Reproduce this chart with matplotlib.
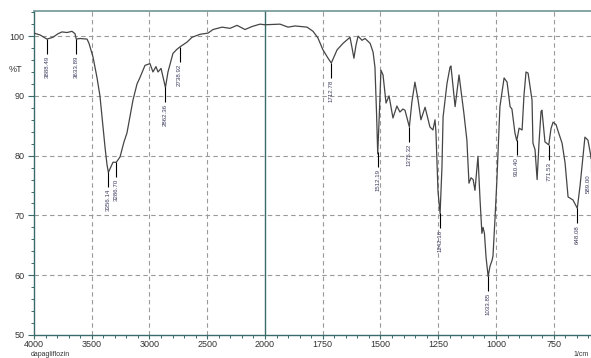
#!/usr/bin/env python3
"""IR spectrum of dapagliflozin, Shimadzu-style plot with a 2x scale below 2000 1/cm."""

import matplotlib
matplotlib.use("Agg")
import matplotlib.pyplot as plt
import numpy as np
from matplotlib.ticker import FixedLocator

# Spectrum (wavenumber in 1/cm, transmittance in %T).
wavenumber = [
    4000, 3948, 3888, 3836, 3792, 3758, 3714, 3671, 3645, 3634, 3602, 3541,
    3524, 3489, 3455, 3429, 3411, 3385, 3368, 3356, 3342, 3316, 3287, 3255,
    3221, 3195, 3169, 3143, 3108, 3082, 3039, 2996, 2970, 2944, 2926, 2900,
    2883, 2862, 2840, 2797, 2762, 2736, 2675, 2632, 2563, 2494, 2450, 2372,
    2303, 2242, 2173, 2113, 2043, 2000,
    1935, 1900, 1870, 1818, 1792, 1771, 1749, 1727, 1713, 1688, 1662, 1632,
    1623, 1615, 1606, 1597, 1580, 1567, 1545, 1532, 1524, 1517, 1512, 1506,
    1498, 1489, 1476, 1463, 1446, 1429, 1416, 1403, 1394, 1375, 1364, 1351,
    1338, 1325, 1307, 1286, 1273, 1264, 1260, 1251, 1242, 1234, 1229, 1212,
    1199, 1195, 1177, 1160, 1143, 1139, 1126, 1117, 1108, 1099, 1091, 1078,
    1069, 1061, 1056, 1050, 1043, 1034, 1026, 1017, 1013, 1004, 996, 983,
    965, 952, 939, 931, 918, 910, 900, 887, 879, 870, 861, 844, 840, 831,
    822, 814, 805, 801, 788, 771.5, 762, 753, 740, 732, 714, 701, 688, 667,
    648, 636, 628, 615, 602, 592, 588, 580,
]
transmittance = [
    100.5, 100.2, 99.5, 99.8, 100.4, 100.7, 100.6, 100.8, 100.4, 99.5, 99.6, 99.5,
    98.8, 96.5, 93.1, 90.0, 86.5, 81.4, 78.5, 77.2, 77.8, 78.9, 78.9, 79.8,
    82.3, 83.8, 86.5, 89.3, 92.0, 93.1, 95.1, 95.4, 94.0, 94.9, 94.0, 94.6,
    93.2, 91.4, 94.0, 97.1, 97.8, 98.2, 99.0, 99.8, 100.3, 100.5, 101.1, 101.5,
    101.3, 101.8, 101.1, 101.6, 102.0, 101.9,
    102.0, 101.5, 101.7, 101.5, 100.8, 99.7, 97.7, 96.3, 95.5, 97.7, 98.8, 99.8,
    98.0, 96.3, 98.5, 100.0, 99.3, 99.6, 98.8, 97.3, 94.8, 87.0, 80.3, 86.0,
    94.3, 93.5, 88.8, 90.0, 86.3, 88.3, 87.3, 87.8, 87.6, 84.8, 89.0, 92.3,
    89.5, 86.0, 88.1, 84.8, 84.3, 86.0, 84.0, 74.0, 70.3, 78.0, 86.5, 92.1,
    94.8, 95.0, 88.2, 93.5, 88.2, 87.1, 82.6, 75.4, 76.3, 76.0, 74.2, 79.9,
    72.6, 67.0, 68.0, 67.0, 63.0, 59.8, 61.5, 62.5, 63.2, 69.7, 76.0, 88.2,
    93.0, 92.3, 88.2, 87.8, 83.8, 82.5, 84.6, 84.3, 90.0, 94.0, 93.8, 89.3, 82.1, 81.0,
    76.0, 82.0, 87.4, 87.6, 82.3, 81.8, 84.5, 85.6, 85.2, 84.2, 82.1, 78.8, 73.1, 72.6,
    71.2, 75.0, 78.1, 83.1, 82.6, 80.5, 79.5, 80.0,
]

# Peak picks and their printed labels.
peak_wn = [3888.49, 3633.89, 3356.14, 3286.70, 2862.36, 2738.92, 1712.78,
           1512.19, 1375.32, 1242.16, 1033.85, 910.40, 771.53, 648.08, 589.00]
peak_text = ["3888.49", "3633.89", "3356.14", "3286.70", "2862.36", "2738.92",
             "1712.78", "1512.19", "1375.32", "1242.16", "1033.85", "910.40",
             "771.53", "648.08", "589.00"]

x_major = [4000, 3500, 3000, 2500, 2000, 1750, 1500, 1250, 1000, 750]
x_grid = [3500, 3000, 2500, 1750, 1500, 1250, 1000, 750]
y_major = [50, 60, 70, 80, 90, 100]

TEAL = "#3a6b6b"
GRID = "#9a9a9a"
TEXT = "#333333"
LABEL = "#3b3b5e"
FONT = ["Liberation Sans", "DejaVu Sans"]

plt.rcParams["font.family"] = FONT


def forward(x):
    x = np.asarray(x, dtype=float)
    return np.where(x >= 2000, x, 2 * x - 2000)


def inverse(y):
    y = np.asarray(y, dtype=float)
    return np.where(y >= 2000, y, (y + 2000) / 2)


fig = plt.figure(figsize=(5.91, 3.58), dpi=100)
ax = fig.add_axes([34 / 591, 23 / 358, 1 - 34 / 591, 324 / 358])
ax.set_xscale("function", functions=(forward, inverse))
ax.set_xlim(4000, 588.7)
ax.set_ylim(50, 104.2)

# grid
for gx in x_grid:
    ax.axvline(gx, color=GRID, lw=0.8, ls=(0, (4, 3)), zorder=1)
for gy in y_major[1:]:
    ax.axhline(gy, color=GRID, lw=0.8, ls=(0, (4, 3)), zorder=1)
ax.axvline(2000, color=TEAL, lw=1.0, zorder=2)

ax.plot(wavenumber, transmittance, color="#454545", lw=0.9, zorder=3)

# peak markers and labels
wn_arr = np.array(wavenumber)[::-1]
t_arr = np.array(transmittance)[::-1]
last = len(peak_wn) - 1
for i, (wn, txt) in enumerate(zip(peak_wn, peak_text)):
    t = np.interp(wn, wn_arr, t_arr)
    ax.vlines(wn, t - 2.5, t, color="black", lw=0.8, zorder=4)
    # the last pick sits on the right edge; keep its label inside the frame
    ax.text(wn, t - 2.8, txt, rotation=90, ha="right" if i == last else "center",
            va="top", fontsize=4.4, color=LABEL, zorder=5)

ax.xaxis.set_major_locator(FixedLocator(x_major))
minors = list(range(3900, 2000, -100)) + list(range(1950, 580, -50))
ax.xaxis.set_minor_locator(FixedLocator([m for m in minors if m not in x_major]))
ax.set_xticklabels([str(v) for v in x_major])
ax.yaxis.set_major_locator(FixedLocator(y_major))
ax.yaxis.set_minor_locator(FixedLocator(list(range(52, 105, 2))))

ax.tick_params(axis="y", which="major", direction="out", length=4.5,
               width=0.8, color=TEAL, labelsize=6.5, labelcolor=TEXT, pad=2.5)
ax.tick_params(axis="x", which="major", direction="out", length=2.8,
               width=0.8, color=TEAL, labelsize=6.5, labelcolor=TEXT, pad=1.0)
ax.tick_params(axis="both", which="minor", direction="out", length=2.2,
               width=0.7, color=TEAL)

for side in ["left", "bottom"]:
    ax.spines[side].set_color(TEAL)
    ax.spines[side].set_linewidth(1.0)
ax.spines["top"].set_color("#6f9595")
ax.spines["top"].set_linewidth(1.2)
ax.spines["right"].set_visible(False)

fig.text(22 / 591, 1 - 70 / 358, "%T", ha="right", va="center",
         fontsize=6.5, color=TEXT)
fig.text(31 / 591, 0.5 / 358, "dapagliflozin", ha="left", va="bottom",
         fontsize=5.0, color=TEXT)
fig.text(589 / 591, 0.5 / 358, "1/cm", ha="right", va="bottom",
         fontsize=5.0, color=TEXT)

fig.savefig("out.png", dpi=100)
